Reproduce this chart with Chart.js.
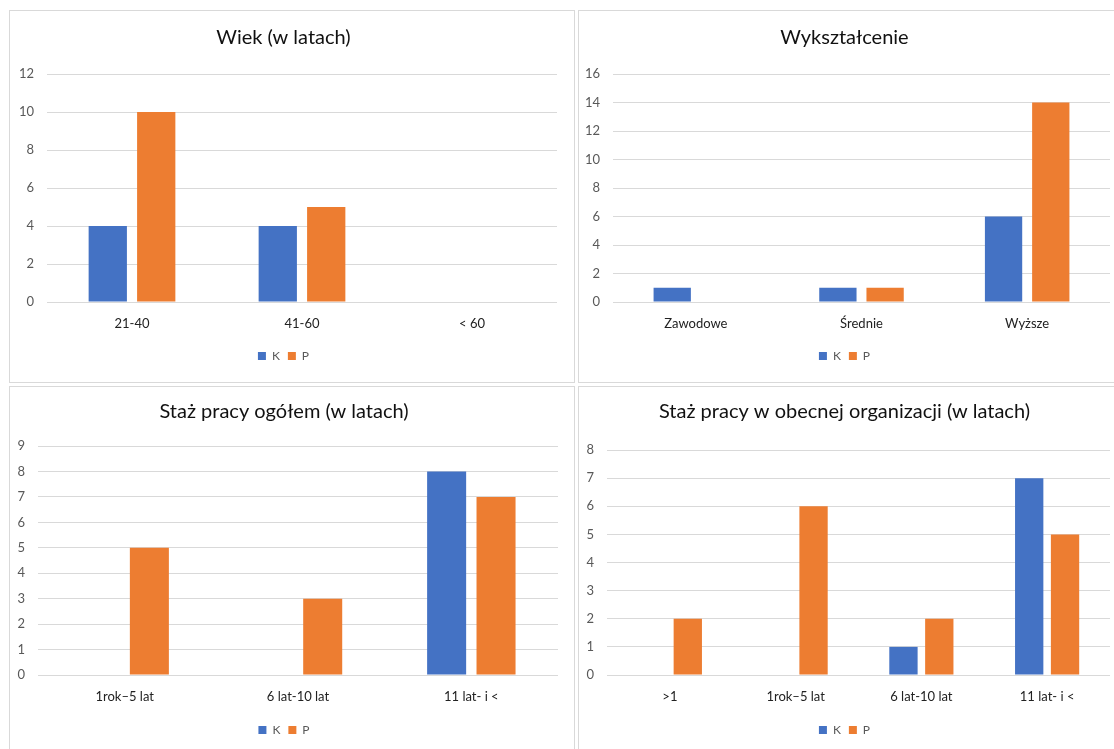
<!DOCTYPE html>
<html lang="pl">
<head>
<meta charset="utf-8">
<title>Charakterystyka respondentów</title>
<script src="https://cdn.jsdelivr.net/npm/chart.js@4/dist/chart.umd.min.js"></script>
<style>
  html, body { margin: 0; padding: 0; background: #ffffff; overflow: hidden; }
  body { width: 1114px; height: 749px; position: relative; }
  .panel { position: absolute; border: 1px solid #d9d9d9; background: #fff; overflow: hidden; }
  .panel canvas { position: absolute; left: 0; top: 0; }
</style>
</head>
<body>
<div class="panel" style="left:9px; top:10px; width:564px; height:371px;"><canvas id="wiek" width="564" height="371"></canvas></div>
<div class="panel" style="left:578px; top:10px; width:545px; height:371px;"><canvas id="wyksztalcenie" width="545" height="371"></canvas></div>
<div class="panel" style="left:9px; top:386px; width:564px; height:380px;"><canvas id="stazOgolem" width="564" height="362"></canvas></div>
<div class="panel" style="left:578px; top:386px; width:545px; height:380px;"><canvas id="stazOrganizacja" width="545" height="362"></canvas></div>

<script>
// Series names
const seriesNames = ['K', 'P'];

// Wiek (w latach)
const wiekLabels = ['21-40', '41-60', '< 60'];
const wiekK = [4, 4, 0];
const wiekP = [10, 5, 0];

// Wykształcenie
const wyksztalcenieLabels = ['Zawodowe', 'Średnie', 'Wyższe'];
const wyksztalcenieK = [1, 1, 6];
const wyksztalcenieP = [0, 1, 14];

// Staż pracy ogółem (w latach)
const stazOgolemLabels = ['1rok–5 lat', '6 lat-10 lat', '11 lat- i <'];
const stazOgolemK = [0, 0, 8];
const stazOgolemP = [5, 3, 7];

// Staż pracy w obecnej organizacji (w latach)
const stazOrgLabels = ['>1', '1rok–5 lat', '6 lat-10 lat', '11 lat- i <'];
const stazOrgK = [0, 0, 1, 7];
const stazOrgP = [2, 6, 2, 5];

const BLUE = '#4472c4';
const ORANGE = '#ed7d31';
const GRID = '#d9d9d9';

Chart.defaults.font.family = 'Lato, "Noto Sans", sans-serif';
Chart.defaults.animation = false;

function buildChart(id, title, labels, kVals, pVals, yMax, yStep, lay) {
  const ctx = document.getElementById(id);
  return new Chart(ctx, {
    type: 'bar',
    data: {
      labels: labels,
      datasets: [
        { label: seriesNames[0], data: kVals, backgroundColor: BLUE, borderWidth: 0 },
        { label: seriesNames[1], data: pVals, backgroundColor: ORANGE, borderWidth: 0 }
      ]
    },
    options: {
      responsive: false,
      devicePixelRatio: 1,
      animation: false,
      categoryPercentage: 0.57,
      barPercentage: 0.79,
      layout: { padding: { left: 0, right: lay.padRight, top: 0, bottom: lay.padBottom } },
      plugins: {
        tooltip: { enabled: false },
        title: {
          display: true,
          text: title,
          color: '#111111',
          font: { size: lay.titleSize, weight: 'normal' },
          padding: { top: lay.titleTop, bottom: lay.titleBottom }
        },
        legend: {
          display: true,
          position: 'bottom',
          labels: {
            color: '#595959',
            boxWidth: 8,
            boxHeight: 8,
            padding: 8,
            font: { size: 12 }
          }
        }
      },
      scales: {
        x: {
          grid: { display: false, drawTicks: false },
          border: { display: false },
          ticks: { color: '#222222', font: { size: 13 }, padding: lay.xPad, maxRotation: 0, autoSkip: false },
          afterFit: (s) => { s.height = lay.xHeight; }
        },
        y: {
          min: 0,
          max: yMax,
          grid: { color: GRID, lineWidth: 1, drawTicks: false },
          border: { display: false },
          ticks: { stepSize: yStep, color: '#595959', font: { size: 13 }, padding: 13 },
          afterFit: (s) => { s.width = lay.yWidth; }
        }
      }
    }
  });
}

buildChart('wiek', 'Wiek (w latach)', wiekLabels, wiekK, wiekP, 12, 2,
  { padRight: 17, padBottom: 10, titleSize: 20, titleTop: 15, titleBottom: 24, xPad: 14, xHeight: 40, yWidth: 37 });

buildChart('wyksztalcenie', 'Wykształcenie', wyksztalcenieLabels, wyksztalcenieK, wyksztalcenieP, 16, 2,
  { padRight: 14, padBottom: 10, titleSize: 20, titleTop: 15, titleBottom: 24, xPad: 14, xHeight: 40, yWidth: 34 });

buildChart('stazOgolem', 'Staż pracy ogółem (w latach)', stazOgolemLabels, stazOgolemK, stazOgolemP, 9, 1,
  { padRight: 16, padBottom: 3, titleSize: 20, titleTop: 13, titleBottom: 22, xPad: 14, xHeight: 41, yWidth: 28 });

buildChart('stazOrganizacja', 'Staż pracy w obecnej organizacji (w latach)', stazOrgLabels, stazOrgK, stazOrgP, 8, 1,
  { padRight: 14, padBottom: 3, titleSize: 20, titleTop: 13, titleBottom: 26, xPad: 14, xHeight: 41, yWidth: 28 });
</script>
</body>
</html>
